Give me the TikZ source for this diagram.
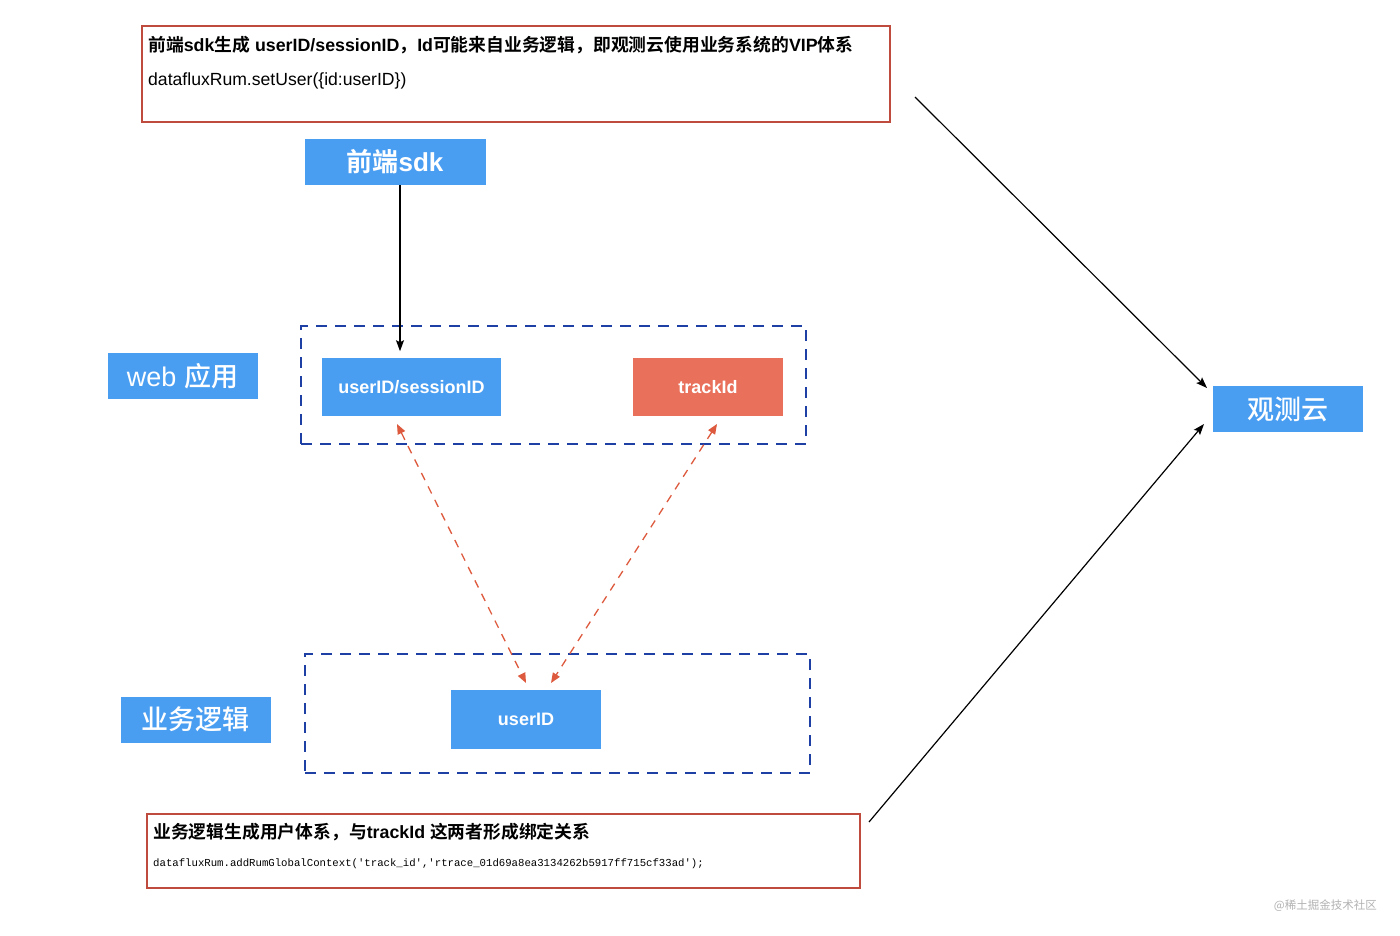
\documentclass[tikz,border=0pt]{standalone}
\usepackage{fontspec}
\setmainfont{Liberation Sans}
\setmonofont{Liberation Mono}
\newfontfamily\cjk{Noto Sans CJK SC}[BoldFont={Noto Sans CJK SC Bold}]
\newfontfamily\cjkm{Noto Sans CJK SC Medium}
\newcommand{\C}[1]{{\cjk #1}}
\usetikzlibrary{arrows.meta}
\definecolor{boxblue}{HTML}{4A9EF2}
\definecolor{boxred}{HTML}{E9705B}
\definecolor{frame}{HTML}{BF4B3F}
\definecolor{dblue}{HTML}{1E3FA3}
\definecolor{dred}{HTML}{DE5A3E}
\tikzset{
  bluebox/.style={fill=boxblue, draw=none, inner sep=0pt, text=white},
  redfill/.style={fill=boxred, draw=none, inner sep=0pt, text=white},
  textframe/.style={draw=frame, line width=1.6pt, fill=none, inner sep=0pt},
  group/.style={draw=dblue, line width=1.6pt, dash pattern=on 11pt off 8pt, inner sep=0pt},
  link/.style={draw=black, line width=1.2pt, -{Stealth[length=11pt,width=8pt,inset=2pt]}},
  rlink/.style={draw=dred, line width=1.3pt, dash pattern=on 8pt off 7pt, {Triangle[length=10pt,width=8pt]}-{Triangle[length=10pt,width=8pt]}},
  lbl/.style={inner sep=0pt, anchor=west},
}
\begin{document}
\begin{tikzpicture}[x=1pt,y=-1pt]
\useasboundingbox[fill=white] (0,0) rectangle (1400,936);

% top text frame
\node[textframe, minimum width=748pt, minimum height=96pt] (topframe) at (516,74) {};
\node[lbl, font=\bfseries\fontsize{17.8}{19}\selectfont] (t1) at (148,45)
  {\C{前端}sdk\C{生成} userID/sessionID\C{，}Id\C{可能来自业务逻辑，即观测云使用业务系统的}VIP\C{体系}};
\node[lbl, font=\fontsize{17.6}{19}\selectfont] (t2) at (148,81) {dataflux{}Rum.setUser(\{id:userID\})};

% front sdk
\node[bluebox, minimum width=181pt, minimum height=46pt, font=\bfseries\fontsize{26}{28}\selectfont] (sdk) at (395,162) {\C{前端}sdk};

% web group
\node[group, minimum width=505pt, minimum height=118pt] (webgrp) at (553.5,385) {};
\node[bluebox, minimum width=179pt, minimum height=58pt, font=\bfseries\fontsize{18}{20}\selectfont] (usid) at (411.5,387) {userID/sessionID};
\node[redfill, minimum width=150pt, minimum height=58pt, font=\bfseries\fontsize{18}{20}\selectfont] (track) at (708,387) {trackId};
\node[bluebox, minimum width=150pt, minimum height=46pt, font=\fontsize{27}{29}\selectfont] (web) at (182.5,376) {web {\cjkm 应用}};

% business group
\node[group, minimum width=505pt, minimum height=119pt] (bizgrp) at (557.5,713.5) {};
\node[bluebox, minimum width=150pt, minimum height=59pt, font=\bfseries\fontsize{18}{20}\selectfont] (uid) at (526,719.5) {userID};
\node[bluebox, minimum width=150pt, minimum height=46pt, font=\cjkm\fontsize{27}{29}\selectfont] (biz) at (195.5,719.5) {业务逻辑};

% guance
\node[bluebox, minimum width=150pt, minimum height=46pt, font=\cjkm\fontsize{27}{29}\selectfont] (gc) at (1287.5,409) {观测云};

% bottom text frame
\node[textframe, minimum width=713pt, minimum height=74pt] (botframe) at (503.5,851) {};
\node[lbl, font=\bfseries\fontsize{17.8}{19}\selectfont] (b1) at (153,832)
  {\C{业务逻辑生成用户体系，与}trackId \C{这两者形成绑定关系}};
\node[lbl, font=\ttfamily\fontsize{10.67}{12}\selectfont] (b2) at (153,864)
  {dataflux{}Rum.addRumGlobalContext('track\_id','rtrace\_01d69a8ea3134262b5917ff715cf33ad');};

% watermark
\node[inner sep=0pt, anchor=east, text=gray!60, font=\cjk\fontsize{11.5}{13}\selectfont] (wm) at (1377,906) {@稀土掘金技术社区};

% connectors
\coordinate (sdkstart) at ([xshift=5pt]sdk.south);
\coordinate (sdkend) at ([yshift=-26pt]sdkstart |- webgrp.north);
\draw[link] (sdkstart) -- (sdkend);
\coordinate (a1s) at (915,97);
\coordinate (a1e) at (1207,388);
\coordinate (a2s) at (869,822);
\coordinate (a2e) at (1204,424);
\draw[link] (a1s) -- (a1e);
\draw[link] (a2s) -- (a2e);

\coordinate (r1a) at (397,424);
\coordinate (r1b) at (526,683);
\coordinate (r2a) at (717,424);
\coordinate (r2b) at (551,683);
\draw[rlink] (r1a) -- (r1b);
\draw[rlink] (r2a) -- (r2b);
\end{tikzpicture}
\end{document}
